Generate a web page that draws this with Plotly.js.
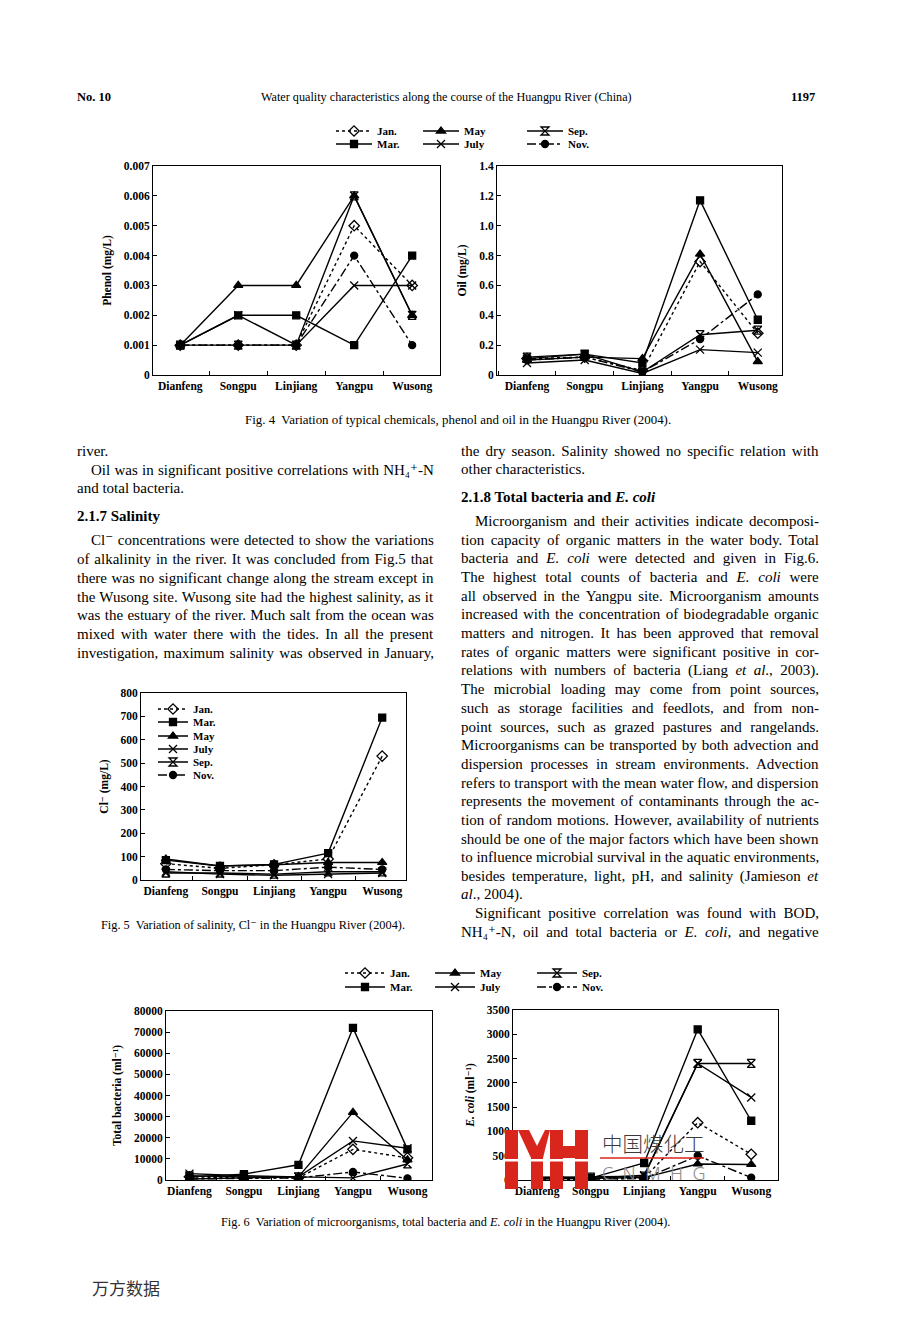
<!DOCTYPE html>
<html><head><meta charset="utf-8">
<script src="https://cdn.plot.ly/plotly-3.0.1.min.js"></script>
<style>html,body{margin:0;padding:0;background:#fff}#chart{width:904px;height:1320px}</style>
</head><body><div id="chart"></div>
<script>
// ---------------- DATA ----------------
const sites = ['Dianfeng','Songpu','Linjiang','Yangpu','Wusong'];
const months = ['Jan.','Mar.','May','July','Sep.','Nov.'];
// rows follow months: Jan, Mar, May, July, Sep, Nov
const phenol = [
  [0.001,0.001,0.001,0.005,0.003],
  [0.001,0.002,0.002,0.001,0.004],
  [0.001,0.003,0.003,0.006,0.002],
  [0.001,0.002,0.001,0.003,0.003],
  [0.001,0.001,0.001,0.006,0.002],
  [0.001,0.001,0.001,0.004,0.001]
];
const oil = [
  [0.11,0.12,0.03,0.76,0.28],
  [0.11,0.14,0.08,1.17,0.37],
  [0.10,0.12,0.11,0.81,0.09],
  [0.08,0.10,0.01,0.17,0.15],
  [0.12,0.14,0.02,0.27,0.30],
  [0.10,0.12,0.02,0.24,0.54]
];
const chloride = [
  [70,50,65,90,530],
  [85,60,67,115,695],
  [90,60,65,75,75],
  [35,25,20,25,30],
  [30,30,25,35,35],
  [45,40,40,55,45]
];
const bacteria = [
  [1500,1000,1000,14500,10500],
  [1500,2800,7200,72000,14500],
  [500,1000,1500,32000,9500],
  [3000,2000,1500,18500,15000],
  [2000,1500,1500,1000,7600],
  [500,800,1000,3800,800]
];
const ecoli = [
  [30,20,40,1180,530],
  [60,40,350,3100,1220],
  [20,30,50,330,320],
  [40,30,100,2400,1700],
  [50,60,80,2400,2400],
  [10,20,30,500,50]
];
const phenolTicks = [0,0.001,0.002,0.003,0.004,0.005,0.006,0.007];
const phenolTickText = ['0','0.001','0.002','0.003','0.004','0.005','0.006','0.007'];
const oilTicks = [0,0.2,0.4,0.6,0.8,1.0,1.2,1.4];
const oilTickText = ['0','0.2','0.4','0.6','0.8','1.0','1.2','1.4'];
const clTicks = [0,100,200,300,400,500,600,700,800];
const bacTicks = [0,10000,20000,30000,40000,50000,60000,70000,80000];
const ecoliTicks = [0,500,1000,1500,2000,2500,3000,3500];

// ---------------- STYLE / LAYOUT ----------------
const F = 'Liberation Serif, Times New Roman, DejaVu Serif, serif';
const W = 904, H = 1320;
const px = v => v / W;
const py = v => 1 - v / H;

const seriesStyle = [
  {dash:'dot', symbol:'diamond-open', size:8},
  {dash:'solid', symbol:'square', size:7},
  {dash:'solid', symbol:'triangle-up', size:8},
  {dash:'solid', symbol:'x-thin-open', size:8},
  {dash:'solid', symbol:'hourglass-open', size:8},
  {dash:'dashdot', symbol:'circle', size:7}
];

const fig4Legends = ['legend','legend2','legend','legend2','legend','legend2'];
const fig5Legends = ['legend3','legend4','legend5','legend6','legend7','legend8'];
const fig6Legends = ['legend9','legend10','legend9','legend10','legend9','legend10'];
const fig4EntryW = [36,36,53,53,40,40];
const fig6EntryW = [35,35,47,47,40,40];

const panels = [
  {data: phenol, xa:'x', ya:'y', legends: fig4Legends, ew: fig4EntryW},
  {data: oil, xa:'x2', ya:'y2', legends: null},
  {data: chloride, xa:'x3', ya:'y3', legends: fig5Legends, ew: null},
  {data: bacteria, xa:'x4', ya:'y4', legends: fig6Legends, ew: fig6EntryW},
  {data: ecoli, xa:'x5', ya:'y5', legends: null}
];

const traces = [];
panels.forEach(p => {
  p.data.forEach((vals, i) => {
    const s = seriesStyle[i];
    const t = {
      type:'scatter', mode:'lines+markers', x: sites, y: vals, name: months[i],
      xaxis: p.xa, yaxis: p.ya,
      line:{color:'#000', width:1.4, dash:s.dash},
      marker:{symbol:s.symbol, size:s.size, color:'#000', line:{color:'#000', width:1.3}},
      showlegend: !!p.legends
    };
    if (p.legends) {
      t.legend = p.legends[i];
      if (p.ew) t.legendwidth = p.ew[i];
    }
    traces.push(t);
  });
});

const tickFont = {family:F, size:11.5, color:'#000', weight:'bold'};
function xAxis(x0, x1, range, anchor) {
  return {domain:[px(x0), px(x1)], range: range, type:'category', categoryarray: sites,
    anchor: anchor, showline:true, mirror:true, linecolor:'#000', linewidth:1,
    ticks:'inside', tickson:'boundaries', ticklen:4, tickcolor:'#000', tickangle:0,
    tickfont: tickFont, showgrid:false, zeroline:false, fixedrange:true};
}
function yAxis(y0, y1, range, anchor, tv, tt, title, standoff) {
  const a = {domain:[py(y1), py(y0)], range: range, anchor: anchor,
    showline:true, mirror:true, linecolor:'#000', linewidth:1,
    ticks:'inside', ticklen:4, tickcolor:'#000', tickvals: tv,
    tickfont: tickFont, showgrid:false, zeroline:false, fixedrange:true,
    title:{text:title, font:{family:F, size:11.5, color:'#000', weight:'bold'}, standoff: standoff}};
  if (tt) a.ticktext = tt;
  else a.tickformat = 'd';
  return a;
}

const layout = {
  width: W, height: H, margin:{l:0,r:0,t:0,b:0},
  paper_bgcolor:'#fff', plot_bgcolor:'rgba(0,0,0,0)',
  font:{family:F, color:'#000'},
  xaxis:  xAxis(153, 440, [-0.47, 4.48], 'y'),
  yaxis:  yAxis(166, 375, [0, 0.007], 'x', phenolTicks, phenolTickText, 'Phenol (mg/L)', 9),
  xaxis2: xAxis(497, 782, [-0.52, 4.42], 'y2'),
  yaxis2: yAxis(166, 375, [0, 1.4], 'x2', oilTicks, oilTickText, 'Oil (mg/L)', 10),
  xaxis3: xAxis(141, 406, [-0.46, 4.44], 'y3'),
  yaxis3: yAxis(693, 880, [0, 800], 'x3', clTicks, null, 'Cl⁻ (mg/L)', 9),
  xaxis4: xAxis(166, 432, [-0.43, 4.45], 'y4'),
  yaxis4: yAxis(1011, 1180, [0, 80000], 'x4', bacTicks, null, 'Total bacteria (ml⁻¹)', 9),
  xaxis5: xAxis(513, 778, [-0.45, 4.5], 'y5'),
  yaxis5: yAxis(1010, 1180, [0, 3500], 'x5', ecoliTicks, null, '<i>E. coli</i> (ml⁻¹)', 9),
  annotations: [], shapes: []
};

// legend boxes: [id, sample start x, row y, itemwidth, orientation]
const legendBoxes = [
  ['legend', 336, 131, 36, 'h'], ['legend2', 336, 144, 36, 'h'],
  ['legend3', 158, 709, 30, 'v'], ['legend4', 158, 722, 30, 'v'], ['legend5', 158, 736, 30, 'v'],
  ['legend6', 158, 749, 30, 'v'], ['legend7', 158, 762, 30, 'v'], ['legend8', 158, 775, 30, 'v'],
  ['legend9', 345, 973, 40, 'h'], ['legend10', 345, 987, 40, 'h']
];
legendBoxes.forEach(b => {
  layout[b[0]] = {x: px(b[1] - 5), y: py(b[2]), xanchor:'left', yanchor:'middle', orientation: b[4],
    bgcolor:'rgba(0,0,0,0)', borderwidth:0, itemwidth: b[3], entrywidthmode:'pixels',
    font:{family:F, size:11, color:'#000', weight:'bold'}};
});

// ---------------- TEXT ----------------
function ann(x, y, text, size, opts) {
  layout.annotations.push(Object.assign({xref:'paper', yref:'paper', x: px(x), y: py(y),
    text: text, showarrow:false, xanchor:'left', yanchor:'middle',
    font:{family:F, size:size, color:'#000'}}, opts || {}));
  return layout.annotations.length - 1;
}
ann(75, 97, '<b>No. 10</b>', 12.5);
ann(446, 97, 'Water quality characteristics along the course of the Huangpu River (China)', 12.2, {xanchor:'center'});
ann(817, 97, '<b>1197</b>', 12.5, {xanchor:'right'});
ann(458, 420, 'Fig. 4  Variation of typical chemicals, phenol and oil in the Huangpu River (2004).', 12.9, {xanchor:'center'});
ann(253, 925, 'Fig. 5  Variation of salinity, Cl⁻ in the Huangpu River (2004).', 12.3, {xanchor:'center'});
ann(445, 1222, 'Fig. 6  Variation of microorganisms, total bacteria and <i>E. coli</i> in the Huangpu River (2004).', 12.3, {xanchor:'center'});
ann(90, 1287, '万方数据', 17, {font:{family:'Noto Sans CJK SC', size:17, color:'#333'}});

// [x, y, text, justified]
const bodyLines = [
  [75,451,'river.',0],
  [89,470,'Oil was in significant positive correlations with NH₄⁺-N',1],
  [75,488,'and total bacteria.',0],
  [75,516,'<b>2.1.7 Salinity</b>',0],
  [89,540,'Cl⁻ concentrations were detected to show the variations',1],
  [75,559,'of alkalinity in the river. It was concluded from Fig.5 that',1],
  [75,578,'there was no significant change along the stream except in',1],
  [75,597,'the Wusong site. Wusong site had the highest salinity, as it',1],
  [75,615,'was the estuary of the river. Much salt from the ocean was',1],
  [75,634,'mixed with water there with the tides. In all the present',1],
  [75,653,'investigation, maximum salinity was observed in January,',1],
  [459,451,'the dry season. Salinity showed no specific relation with',1],
  [459,469,'other characteristics.',0],
  [459,497,'<b>2.1.8 Total bacteria and <i>E. coli</i></b>',0],
  [473,521,'Microorganism and their activities indicate decomposi-',1],
  [459,540,'tion capacity of organic matters in the water body. Total',1],
  [459,558,'bacteria and <i>E. coli</i> were detected and given in Fig.6.',1],
  [459,577,'The highest total counts of bacteria and <i>E. coli</i> were',1],
  [459,596,'all observed in the Yangpu site. Microorganism amounts',1],
  [459,614,'increased with the concentration of biodegradable organic',1],
  [459,633,'matters and nitrogen. It has been approved that removal',1],
  [459,652,'rates of organic matters were significant positive in cor-',1],
  [459,670,'relations with numbers of bacteria (Liang <i>et al</i>., 2003).',1],
  [459,689,'The microbial loading may come from point sources,',1],
  [459,708,'such as storage facilities and feedlots, and from non-',1],
  [459,727,'point sources, such as grazed pastures and rangelands.',1],
  [459,745,'Microorganisms can be transported by both advection and',1],
  [459,764,'dispersion processes in stream environments. Advection',1],
  [459,783,'refers to transport with the mean water flow, and dispersion',1],
  [459,801,'represents the movement of contaminants through the ac-',1],
  [459,820,'tion of random motions. However, availability of nutrients',1],
  [459,839,'should be one of the major factors which have been shown',1],
  [459,857,'to influence microbial survival in the aquatic environments,',1],
  [459,876,'besides temperature, light, pH, and salinity (Jamieson <i>et</i>',1],
  [459,894,'<i>al</i>., 2004).',0],
  [473,913,'Significant positive correlation was found with BOD,',1],
  [459,932,'NH₄⁺-N, oil and total bacteria or <i>E. coli</i>, and negative',1]
];
const justifyTargets = {};
bodyLines.forEach(l => {
  const idx = ann(l[0], l[1], l[2], 15);
  if (l[3]) justifyTargets[idx] = (l[0] < 450 ? 432 : 817) - l[0];
});

// ---------------- WATERMARK ----------------
const RED = '#d8261d';
function rect(x0, y0, x1, y1, color) {
  layout.shapes.push({type:'rect', xref:'paper', yref:'paper', x0:px(x0), x1:px(x1), y0:py(y1), y1:py(y0),
    fillcolor:color, line:{width:0}, layer:'above'});
}
function poly(pts, color) {
  const d = pts.map((p, i) => (i ? 'L' : 'M') + px(p[0]) + ',' + py(p[1])).join(' ') + ' Z';
  layout.shapes.push({type:'path', xref:'paper', yref:'paper', path:d, fillcolor:color, line:{width:0}, layer:'above'});
}
rect(505, 1130, 518, 1189, RED);
poly([[518,1130],[529,1130],[537,1146],[545,1130],[550,1130],[543,1158],[531,1158]], RED);
rect(531, 1156, 543, 1189, RED);
rect(550, 1130, 563, 1189, RED);
rect(563, 1146, 575, 1158, RED);
rect(575, 1130, 588, 1189, RED);
rect(504, 1159, 589, 1161.5, '#ffffff');
layout.shapes.push({type:'line', xref:'paper', yref:'paper', x0:px(600), x1:px(704), y0:py(1158), y1:py(1158),
  line:{color:RED, width:1.5}, layer:'above'});
ann(600, 1143, '中国煤化工', 20.5, {font:{family:'Noto Sans CJK SC', size:20.5, color:'#3a3a3a', weight:300}});
ann(600, 1173, 'C  N  M  H  G', 18, {font:{family:'Noto Sans, DejaVu Sans', size:18, color:'#8c8c8c', weight:300}});

const gd = document.getElementById('chart');
Plotly.newPlot(gd, traces, layout, {displayModeBar:false, staticPlot:true}).then(() => {
  // justify body text lines to the column edges (word spacing only, left edge kept)
  gd.querySelectorAll('g.annotation').forEach(g => {
    const idx = +g.getAttribute('data-index');
    if (!(idx in justifyTargets)) return;
    const t = g.querySelector('text.annotation-text');
    if (!t) return;
    const bb = t.getBBox();
    const spaces = (t.textContent.match(/ /g) || []).length;
    const extra = justifyTargets[idx] - bb.width;
    if (spaces > 0 && extra > 0 && extra < 90) {
      t.setAttribute('text-anchor', 'start');
      t.style.textAnchor = 'start';
      t.setAttribute('x', bb.x);
      t.style.wordSpacing = (extra / spaces).toFixed(2) + 'px';
    }
  });
});
</script>
</body></html>
